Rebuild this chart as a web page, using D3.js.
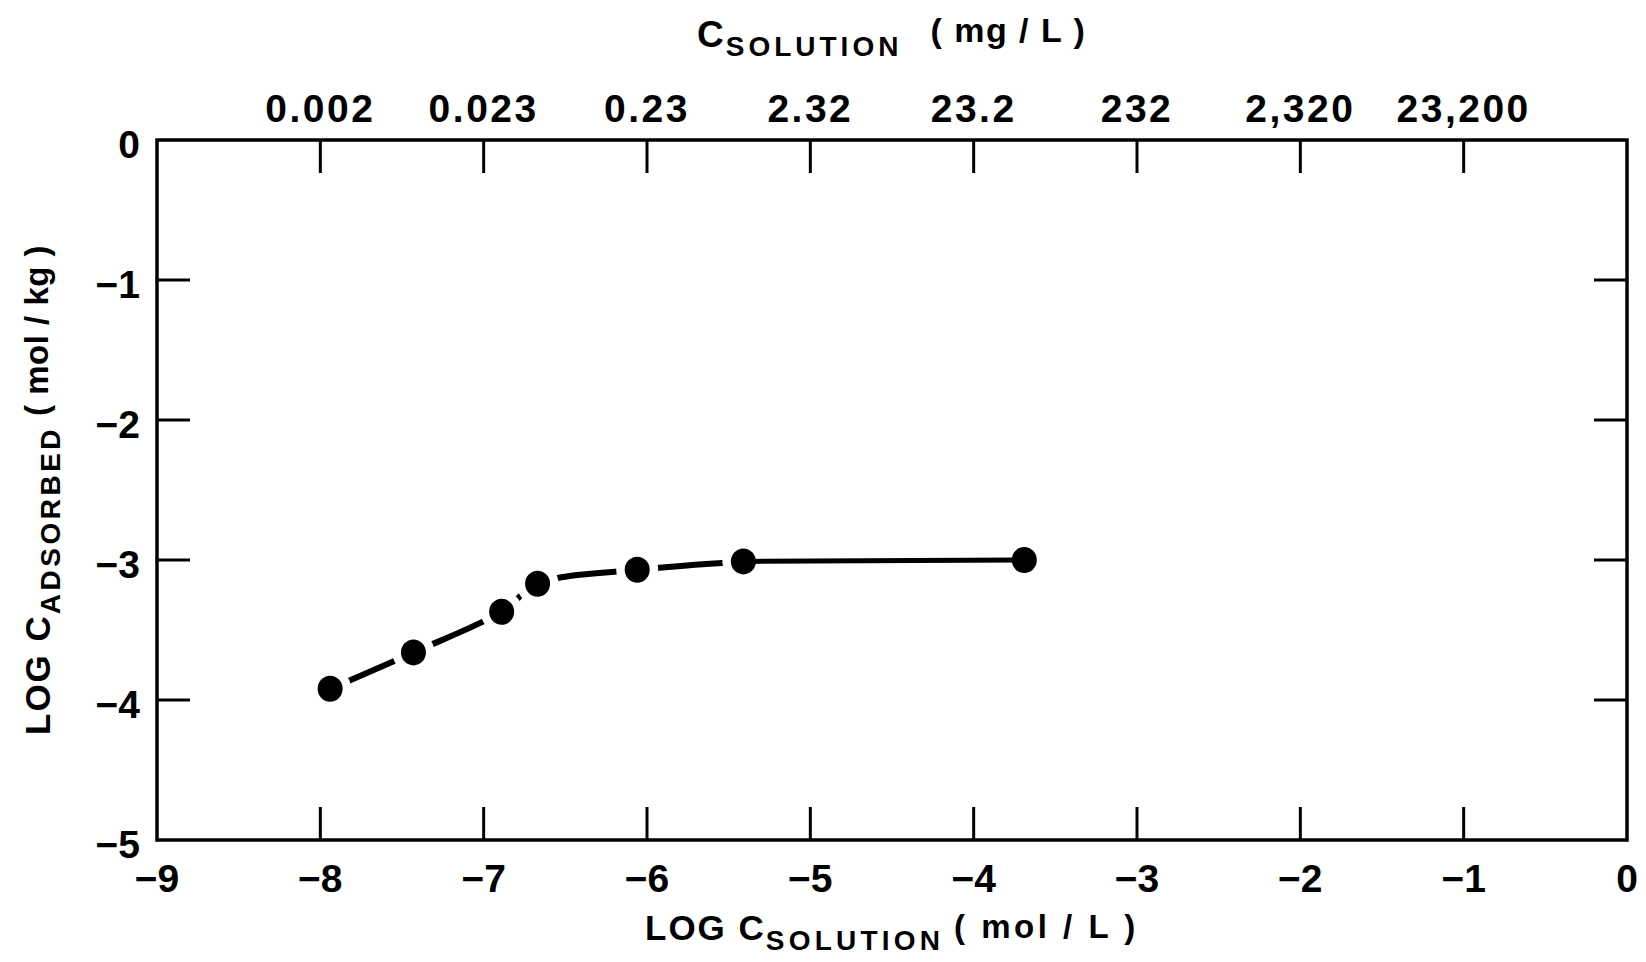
<!DOCTYPE html>
<html>
<head>
<meta charset="utf-8">
<script src="https://cdn.jsdelivr.net/npm/d3@7"></script>
<style>
  body { margin: 0; background: #fff; }
  text { font-family: "Liberation Sans", Arial, sans-serif; font-weight: bold; fill: #000; }
</style>
</head>
<body>
<div id="chart"></div>
<script>
// log C solution (mol/L) vs log C adsorbed (mol/kg)
const logSolution = [-7.94, -7.43, -6.89, -6.67, -6.06, -5.41, -3.69];
const logAdsorbed = [-3.92, -3.66, -3.37, -3.17, -3.07, -3.01, -3.00];

const xTicks = [-9, -8, -7, -6, -5, -4, -3, -2, -1, 0];
const yTicks = [0, -1, -2, -3, -4, -5];
const topTicks = [-8, -7, -6, -5, -4, -3, -2, -1];
const topLabels = ["0.002", "0.023", "0.23", "2.32", "23.2", "232", "2,320", "23,200"];

const W = 1646, H = 962;
const margin = { top: 140, right: 19, bottom: 122, left: 157 };
const graphWidth = W - margin.left - margin.right;
const graphHeight = H - margin.top - margin.bottom;

const svg = d3.select('#chart').append('svg').attr('width', W).attr('height', H);
const graph = svg.append('g').attr('transform', `translate(${margin.left}, ${margin.top})`);

const x = d3.scaleLinear().domain([-9, 0]).range([0, graphWidth]);
const y = d3.scaleLinear().domain([-5, 0]).range([graphHeight, 0]);

const minus = s => String(s).replace('-', '\u2212');
const tickLen = 33;

// frame
graph.append('rect')
  .attr('width', graphWidth).attr('height', graphHeight)
  .attr('fill', 'none').attr('stroke', '#000').attr('stroke-width', 3.5);

// inward ticks on all four sides
const inner = xTicks.filter(d => d > -9 && d < 0);
graph.selectAll('.tb').data(inner).enter().append('line')
  .attr('x1', d => x(d)).attr('x2', d => x(d))
  .attr('y1', graphHeight).attr('y2', graphHeight - tickLen)
  .attr('stroke', '#000').attr('stroke-width', 3);
graph.selectAll('.tt').data(topTicks).enter().append('line')
  .attr('x1', d => x(d)).attr('x2', d => x(d))
  .attr('y1', 0).attr('y2', tickLen)
  .attr('stroke', '#000').attr('stroke-width', 3);
const innerY = yTicks.filter(d => d > -5 && d < 0);
graph.selectAll('.tl').data(innerY).enter().append('line')
  .attr('x1', 0).attr('x2', tickLen)
  .attr('y1', d => y(d)).attr('y2', d => y(d))
  .attr('stroke', '#000').attr('stroke-width', 3);
graph.selectAll('.tr').data(innerY).enter().append('line')
  .attr('x1', graphWidth).attr('x2', graphWidth - tickLen)
  .attr('y1', d => y(d)).attr('y2', d => y(d))
  .attr('stroke', '#000').attr('stroke-width', 3);

// tick labels
const fs = 39;
graph.selectAll('.xl').data(xTicks).enter().append('text')
  .attr('x', d => x(d)).attr('y', graphHeight + 52)
  .attr('text-anchor', 'middle').attr('font-size', fs)
  .text(d => minus(d));
graph.selectAll('.yl').data(yTicks).enter().append('text')
  .attr('x', -17).attr('y', d => y(d) + 18)
  .attr('text-anchor', 'end').attr('font-size', fs)
  .text(d => minus(d));
graph.selectAll('.tl2').data(topTicks).enter().append('text')
  .attr('x', d => x(d)).attr('y', -18)
  .attr('text-anchor', 'middle').attr('font-size', fs)
  .attr('letter-spacing', 2.5)
  .text((d, i) => topLabels[i]);

// axis titles (big C, lowered subscript, raised units)
const topTitle = svg.append('text').attr('x', 697).attr('y', 47).attr('font-size', 37);
topTitle.append('tspan').text('C');
topTitle.append('tspan').attr('font-size', 28).attr('dy', 9).attr('dx', 2)
  .attr('letter-spacing', 4).text('SOLUTION');
topTitle.append('tspan').attr('font-size', 34).attr('dy', -14).attr('dx', 28)
  .attr('letter-spacing', 1.5).text('( mg / L )');

const botTitle = svg.append('text').attr('x', 645).attr('y', 940).attr('font-size', 35);
botTitle.append('tspan').attr('letter-spacing', 2).text('LOG C');
botTitle.append('tspan').attr('font-size', 28).attr('dy', 10).attr('dx', 0)
  .attr('letter-spacing', 4.2).text('SOLUTION');
botTitle.append('tspan').attr('font-size', 33).attr('dy', -12).attr('dx', 10)
  .attr('letter-spacing', 3.5).text('( mol / L )');

const yTitle = svg.append('text')
  .attr('transform', 'translate(50, 735) rotate(-90)')
  .attr('font-size', 35);
yTitle.append('tspan').attr('letter-spacing', 2).text('LOG C');
yTitle.append('tspan').attr('font-size', 28).attr('dy', 10).attr('dx', 0)
  .attr('letter-spacing', 3.5).text('ADSORBED');
yTitle.append('tspan').attr('font-size', 33).attr('dy', -12).attr('dx', 10)
  .attr('letter-spacing', 0.5).text('( mol / kg )');

// isotherm: broken curve through the first points, solid to the last one
const pts = logSolution.map((v, i) => [x(v), y(logAdsorbed[i])]);
graph.append('path')
  .attr('d', d3.line().curve(d3.curveCatmullRom.alpha(0.5))(pts.slice(0, 6)))
  .attr('fill', 'none').attr('stroke', '#000').attr('stroke-width', 6)
  .attr('stroke-linecap', 'round');

// white halos leave the gaps beside each marker
graph.selectAll('.halo').data(pts.slice(0, 6)).enter().append('circle')
  .attr('cx', d => d[0]).attr('cy', d => d[1])
  .attr('r', 21).attr('fill', '#fff');

graph.append('path')
  .attr('d', d3.line()(pts.slice(5)))
  .attr('fill', 'none').attr('stroke', '#000').attr('stroke-width', 5);

graph.selectAll('.pt').data(pts).enter().append('ellipse')
  .attr('cx', d => d[0]).attr('cy', d => d[1])
  .attr('rx', 12.5).attr('ry', 13)
  .attr('fill', '#000');
</script>
</body>
</html>
